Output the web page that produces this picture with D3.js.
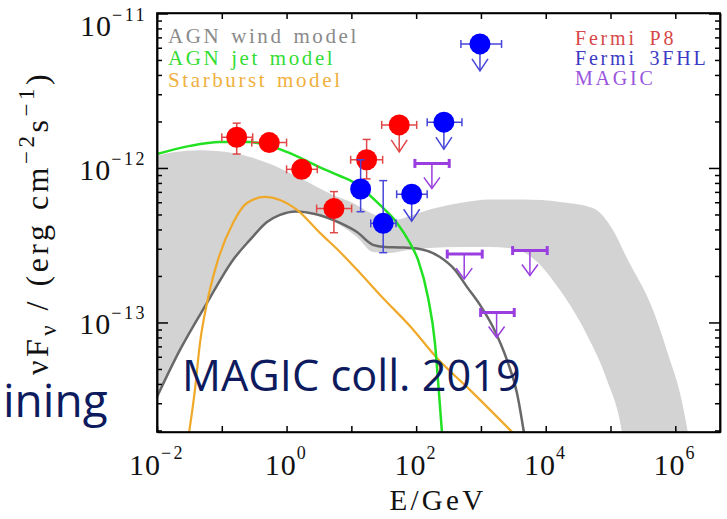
<!DOCTYPE html>
<html><head><meta charset="utf-8">
<script src="https://cdn.jsdelivr.net/npm/d3@7"></script>
<style>body{margin:0;background:#fff}</style>
</head><body><svg id="c" width="727" height="519"></svg>
<script>
// ---------- DATA ----------
const xTickDecades = [-2,-1,0,1,2,3,4,5,6];
const xLabelDecades = [-2,0,2,4,6];
const yLabelDecades = [-11,-12,-13];

// Fermi P8 (red)
const p8E   = [0.170, 0.54, 1.71, 5.38, 17.2, 54.8];
const p8Elo = [0.100, 0.29, 1.00, 2.91, 9.75, 29.4];
const p8Ehi = [0.30, 1.00, 2.98, 10.1, 30.4, 102];
const p8F   = [1.58e-12, 1.46e-12, 9.8e-13, 5.46e-13, 1.13e-12, 1.90e-12];
const p8Flo = [1.23e-12, 1.36e-12, 8.7e-13, 3.81e-13, 8.5e-13, null];
const p8Fhi = [1.95e-12, 1.57e-12, 1.10e-12, 7.03e-13, 1.53e-12, null];
const p8UL  = [0,0,0,0,0,1];

// Fermi 3FHL (blue)
const fhlE   = [13.9, 31.0, 85.3, 268, 966];
const fhlElo = [null, 19.9, 50, 148, 491];
const fhlEhi = [null, 48.8, 148, 509, 2080];
const fhlF   = [7.31e-13, 4.38e-13, 6.76e-13, 1.98e-12, 6.35e-12];
const fhlFlo = [5.21e-13, 2.83e-13, null, null, null];
const fhlFhi = [1.13e-12, 8.28e-13, null, null, null];
const fhlUL  = [0,0,1,1,1];

// MAGIC upper limits (purple)
const magE   = [175, 552, 1745, 5700];
const magElo = [95.7, 302, 989, 3084];
const magEhi = [324, 1047, 3266, 10540];
const magF   = [1.07e-12, 2.77e-13, 1.16e-13, 2.92e-13];

// AGN jet model (green)
const jetE = [0.01, 0.0323, 0.0938, 0.272, 0.555, 1.01, 3.27, 6.67, 10.6, 13.6, 27.6, 50.6, 80.2, 107, 152, 195, 225, 259];
const jetF = [1.23e-12, 1.39e-12, 1.47e-12, 1.47e-12, 1.39e-12, 1.27e-12, 1.01e-12, 8.87e-13, 8.11e-13, 7.53e-13, 5.76e-13, 4.41e-13, 3.27e-13, 2.54e-13, 1.46e-13, 7.37e-14, 3.50e-14, 1.61e-14];

// AGN wind model (dark grey line)
const windE = [0.01, 0.0226, 0.0592, 0.149, 0.272, 0.499, 0.791, 1.40, 2.74, 6.67, 12.2, 21.5, 33.0, 56.2, 103, 233, 397, 608, 966, 1531, 2518, 3597, 4944];
const windF = [3.30e-14, 6.64e-14, 1.34e-13, 2.54e-13, 3.42e-13, 4.47e-13, 4.97e-13, 5.23e-13, 5.04e-13, 4.41e-13, 3.85e-13, 3.18e-13, 3.08e-13, 3.06e-13, 3.01e-13, 2.65e-13, 2.19e-13, 1.70e-13, 1.30e-13, 9.35e-14, 5.72e-14, 3.50e-14, 1.61e-14];

// Starburst model (orange)
const sbE = [0.0292, 0.0385, 0.0461, 0.0592, 0.0873, 0.149, 0.245, 0.465, 0.791, 1.45, 3.27, 6.67, 13.6, 30.7, 80.2, 209, 676, 4775];
const sbF = [1.61e-14, 3.66e-14, 7.37e-14, 1.34e-13, 2.54e-13, 4.41e-13, 5.93e-13, 6.49e-13, 6.21e-13, 5.35e-13, 3.80e-13, 2.86e-13, 2.09e-13, 1.44e-13, 9.49e-14, 5.89e-14, 3.66e-14, 1.61e-14];

// AGN wind model band (light grey)
const bandUpE = [0.01, 0.0190, 0.0461, 0.149, 0.499, 1.61, 5.20, 10.6, 17.4, 27.6, 47.1, 80.2, 137, 233, 474, 1377, 4446, 16560, 53460, 1.089e5, 1.79e5, 4.51e5, 8.26e5, 1.18e6, 1.56e6, 1.68e6];
const bandUpF = [1.20e-12, 1.27e-12, 1.30e-12, 1.25e-12, 1.08e-12, 8.61e-13, 6.69e-13, 5.93e-13, 5.27e-13, 4.82e-13, 4.61e-13, 4.89e-13, 5.27e-13, 5.59e-13, 5.93e-13, 6.25e-13, 6.25e-13, 6.03e-13, 5.51e-13, 3.97e-13, 2.61e-13, 1.21e-13, 5.72e-14, 3.50e-14, 1.95e-14, 1.61e-14];
const bandLowE = [0.01, 0.0226, 0.0592, 0.149, 0.272, 0.499, 0.791, 1.40, 2.74, 6.67, 12.2, 21.5, 39.4, 80.2, 163, 474, 1377, 3350, 6810, 16560, 43250, 87900, 1.50e5, 1.61e5];
const bandLowF = [3.30e-14, 6.64e-14, 1.34e-13, 2.54e-13, 3.42e-13, 4.47e-13, 4.97e-13, 5.23e-13, 5.04e-13, 4.28e-13, 3.57e-13, 2.86e-13, 2.82e-13, 2.95e-13, 3.03e-13, 3.08e-13, 3.08e-13, 2.99e-13, 2.54e-13, 1.62e-13, 8.30e-14, 4.25e-14, 1.95e-14, 1.61e-14];

const legendLeft = ["AGN wind model", "AGN jet model", "Starburst model"];
const legendRight = ["Fermi P8", "Fermi 3FHL", "MAGIC"];

// ---------- CHART ----------
const serif = "'Liberation Serif', 'DejaVu Serif', serif";
const svg = d3.select("#c");
const L = 157, R = 720, T = 13, B = 432;
const x = d3.scaleLog().domain([1e-2, Math.pow(10, 6.69)]).range([L, R]);
const y = d3.scaleLog().domain([Math.pow(10, -13.709), Math.pow(10, -10.997)]).range([B, T]);

svg.append("defs").append("clipPath").attr("id","clip")
  .append("rect").attr("x",L).attr("y",T).attr("width",R-L).attr("height",B-T);
const plot = svg.append("g").attr("clip-path","url(#clip)");

const zip = (a,b) => a.map((v,i)=>[v,b[i]]);
const line = d3.line().x(d=>x(d[0])).y(d=>y(d[1])).curve(d3.curveMonotoneX);

// band
const up = line(zip(bandUpE, bandUpF));
const low = line(zip(bandLowE, bandLowF).reverse()).replace(/^M/, "L");
plot.append("path").attr("d", up + low + "Z").attr("fill","#d3d3d3").attr("stroke","none");

// model lines
plot.append("path").attr("d", line(zip(windE, windF))).attr("fill","none").attr("stroke","#686868").attr("stroke-width",2.5);
plot.append("path").attr("d", line(zip(sbE, sbF))).attr("fill","none").attr("stroke","#f0a828").attr("stroke-width",2.2);
plot.append("path").attr("d", line(zip(jetE, jetF))).attr("fill","none").attr("stroke","#22e022").attr("stroke-width",2.5);

// data points
function seg(g, x1,y1,x2,y2,c,w){ g.append("line").attr("x1",x1).attr("y1",y1).attr("x2",x2).attr("y2",y2).attr("stroke",c).attr("stroke-width",w); }
function drawSet(E,Elo,Ehi,F,Flo,Fhi,UL,fill,bar){
  const g = plot.append("g");
  E.forEach((e,i)=>{
    const cx = x(e), cy = y(F[i]);
    if (Elo[i]!=null){
      const a = x(Elo[i]), b = x(Ehi[i]);
      seg(g,a,cy,b,cy,bar,1.5); seg(g,a,cy-4,a,cy+4,bar,1.5); seg(g,b,cy-4,b,cy+4,bar,1.5);
    }
    if (Flo[i]!=null){
      const a = y(Flo[i]), b = y(Fhi[i]);
      seg(g,cx,a,cx,b,bar,1.5); seg(g,cx-4,a,cx+4,a,bar,1.5); seg(g,cx-4,b,cx+4,b,bar,1.5);
    }
    if (UL[i]){
      const tip = cy + 27;
      seg(g,cx,cy,cx,tip,bar,1.5);
      g.append("path").attr("d",`M${cx-8},${tip-12}L${cx},${tip}L${cx+8},${tip-12}`).attr("fill","none").attr("stroke",bar).attr("stroke-width",1.5);
    }
  });
  E.forEach((e,i)=>{
    g.append("circle").attr("cx",x(e)).attr("cy",y(F[i])).attr("r",10.5).attr("fill",fill);
  });
}
drawSet(p8E,p8Elo,p8Ehi,p8F,p8Flo,p8Fhi,p8UL,"#ff0000","#e04848");
drawSet(fhlE,fhlElo,fhlEhi,fhlF,fhlFlo,fhlFhi,fhlUL,"#0000ff","#4646d8");

const mg = plot.append("g");
magE.forEach((e,i)=>{
  const cx = x(e), cy = y(magF[i]), a = x(magElo[i]), b = x(magEhi[i]);
  const c = "#9a3ee0";
  seg(mg,a,cy,b,cy,c,3); seg(mg,a,cy-4.5,a,cy+4.5,c,3); seg(mg,b,cy-4.5,b,cy+4.5,c,3);
  const tip = cy + 25;
  seg(mg,cx,cy,cx,tip,c,1.5);
  mg.append("path").attr("d",`M${cx-8},${tip-11}L${cx},${tip}L${cx+8},${tip-11}`).attr("fill","none").attr("stroke",c).attr("stroke-width",1.5);
});

// axes
const xt = xTickDecades.map(d=>Math.pow(10,d));
const yMajor = yLabelDecades.map(d=>Math.pow(10,d));
const yMinor = [];
[-14,-13,-12,-11].forEach(d=>{ for(let k=2;k<=9;k++){ const v=k*Math.pow(10,d); if(v>=y.domain()[0] && v<=y.domain()[1]) yMinor.push(v);} });

function styleAxis(g){ g.selectAll("path,line").attr("stroke","#000").attr("stroke-width",1.5); g.selectAll("text").remove(); }
svg.append("g").attr("transform",`translate(0,${B})`).call(d3.axisBottom(x).tickValues(xt).tickSize(-6).tickSizeOuter(0).tickFormat("")).call(styleAxis);
svg.append("g").attr("transform",`translate(0,${T})`).call(d3.axisTop(x).tickValues(xt).tickSize(-6).tickSizeOuter(0).tickFormat("")).call(styleAxis);
svg.append("g").attr("transform",`translate(${L},0)`).call(d3.axisLeft(y).tickValues(yMinor).tickSize(-5).tickSizeOuter(0).tickFormat("")).call(styleAxis);
svg.append("g").attr("transform",`translate(${L},0)`).call(d3.axisLeft(y).tickValues(yMajor).tickSize(-11).tickSizeOuter(0).tickFormat("")).call(styleAxis);
svg.append("g").attr("transform",`translate(${R},0)`).call(d3.axisRight(y).tickValues(yMinor).tickSize(-5).tickSizeOuter(0).tickFormat("")).call(styleAxis);
svg.append("g").attr("transform",`translate(${R},0)`).call(d3.axisRight(y).tickValues(yMajor).tickSize(-11).tickSizeOuter(0).tickFormat("")).call(styleAxis);
svg.append("rect").attr("x",L).attr("y",T).attr("width",R-L).attr("height",B-T).attr("fill","none").attr("stroke","#000").attr("stroke-width",1.6);

function pow10(t, d, rise){
  t.append("tspan").text("10");
  t.append("tspan").attr("font-size",18).attr("letter-spacing",2.5).attr("dy",-rise).text(d<0 ? "\u2212"+(-d) : String(d));
}
xLabelDecades.forEach(d=>{
  const t = svg.append("text").attr("x",x(Math.pow(10,d))).attr("y",475).attr("text-anchor","middle")
    .attr("font-family",serif).attr("font-size",30).attr("letter-spacing",1).attr("fill","#111");
  pow10(t,d,16);
});
yLabelDecades.forEach(d=>{
  const off = d===-11 ? 22.5 : 12;
  const t = svg.append("text").attr("x",147).attr("y",y(Math.pow(10,d))+off).attr("text-anchor","end")
    .attr("font-family",serif).attr("font-size",30).attr("letter-spacing",1).attr("fill","#111");
  pow10(t,d,15);
});

// axis titles
svg.append("text").attr("x",438).attr("y",510).attr("text-anchor","middle").attr("font-family",serif)
  .attr("font-size",29).attr("letter-spacing",3.3).attr("fill","#111").text("E/GeV");
const yt = svg.append("text").attr("transform","translate(48,223) rotate(-90)").attr("text-anchor","middle")
  .attr("font-family",serif).attr("font-size",32).attr("letter-spacing",3.5).attr("fill","#111");
yt.append("tspan").text("\u03bdF");
yt.append("tspan").attr("font-size",23).attr("dy",8).text("\u03bd");
yt.append("tspan").attr("dy",-8).text(" / (erg cm");
yt.append("tspan").attr("font-size",23).attr("dy",-14).text("\u22122");
yt.append("tspan").attr("dy",14).text("s");
yt.append("tspan").attr("font-size",23).attr("dy",-14).text("\u22121");
yt.append("tspan").attr("dy",14).text(")");

// legends
const leftCols = ["#8a8a8a","#33dd33","#f0b040"];
legendLeft.forEach((s,i)=>{
  svg.append("text").attr("x",168).attr("y",43+22*i).attr("font-family",serif).attr("font-size",21)
    .attr("letter-spacing",2.6).attr("word-spacing",2).attr("fill",leftCols[i]).text(s);
});
const rightCols = ["#d84848","#3a3ac4","#9a55dd"];
legendRight.forEach((s,i)=>{
  svg.append("text").attr("x",575).attr("y",45+20*i).attr("font-family",serif).attr("font-size",20)
    .attr("letter-spacing",2.8).attr("word-spacing",5).attr("fill",rightCols[i]).text(s);
});

// overlay texts
svg.append("text").attr("x",182).attr("y",391).attr("font-family","'Open Sans', 'Noto Sans', sans-serif")
  .attr("font-size",43.3).attr("fill","#0d1b5e").text("MAGIC coll. 2019");
svg.append("text").attr("x",3).attr("y",417).attr("font-family","'Open Sans', 'Noto Sans', sans-serif")
  .attr("font-size",46).attr("fill","#0d1b5e").text("ining");
</script></body></html>
